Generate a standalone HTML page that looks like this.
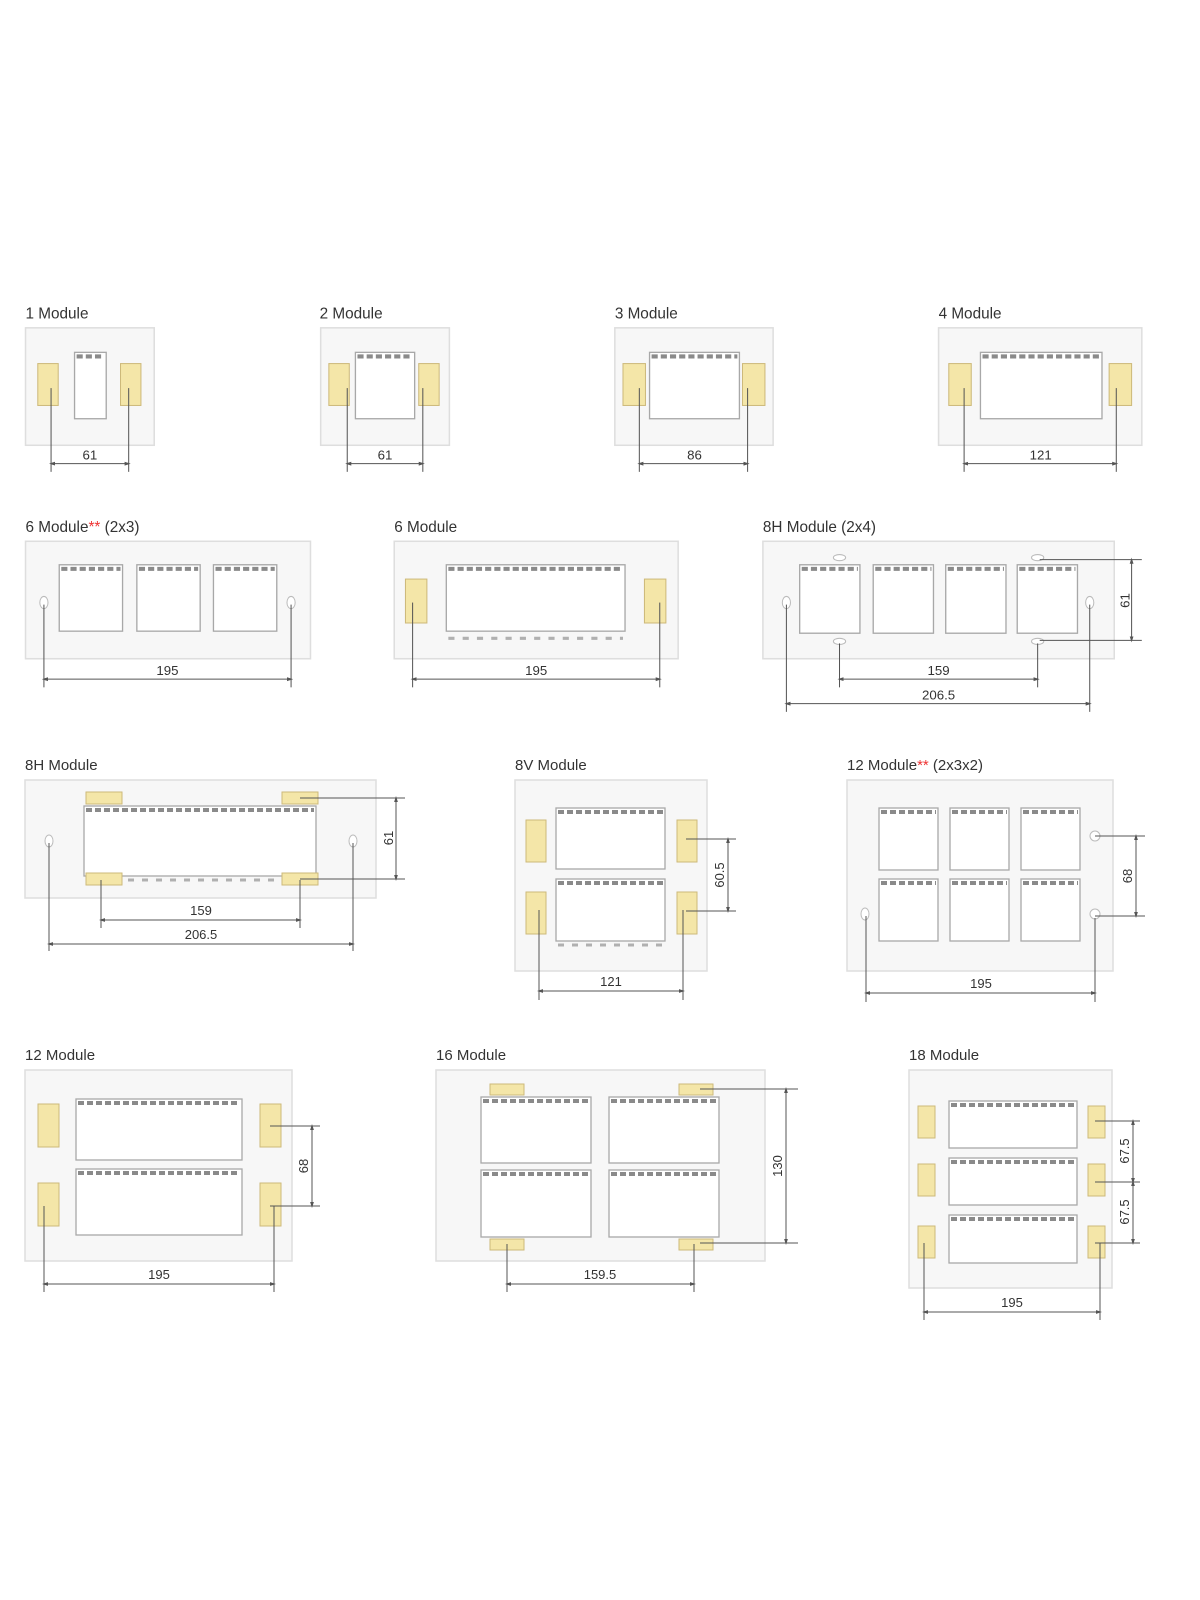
<!DOCTYPE html>
<html><head><meta charset="utf-8"><style>
html,body{margin:0;padding:0;background:#fff}
svg{display:block}
.ti{font-family:"Liberation Sans",sans-serif;font-size:15px;fill:#333}
.dl{font-family:"Liberation Sans",sans-serif;font-size:13px;fill:#333;text-anchor:middle}
.p{fill:#f7f7f7;stroke:#dedede;stroke-width:1.5}
.o{fill:#fff;stroke:#a8a8a8;stroke-width:1.3}
.t{stroke:#8a8a8a;stroke-width:4;stroke-dasharray:6 3}
.b{stroke:#b0b0b0;stroke-width:3;stroke-dasharray:6 8}
.c{fill:#f4e6a8;stroke:#cdb97a;stroke-width:1}
.d{stroke:#555;stroke-width:1;fill:none}
.a{stroke:#555;stroke-width:1;fill:none;marker-start:url(#m);marker-end:url(#m)}
.h{fill:#fff;stroke:#bbb;stroke-width:1}
</style></head><body>
<svg width="1200" height="1600" viewBox="0 0 1200 1600" xmlns="http://www.w3.org/2000/svg">
<defs><marker id="m" viewBox="0 0 8 8" refX="4" refY="4" markerWidth="6" markerHeight="6" orient="auto-start-reverse"><path d="M0,1.5 L8,4 L0,6.5 z" fill="#555"/></marker></defs>

<g transform="scale(1.0213)">
<!-- Row 1 -->
<text class="ti" x="25" y="312">1 Module</text>
<rect class="p" x="25" y="321" width="126" height="115"/>
<rect class="o" x="73" y="345" width="31" height="65"/><line class="t" x1="75" y1="349" x2="102" y2="349"/>
<rect class="c" x="37" y="356" width="20" height="41"/><rect class="c" x="118" y="356" width="20" height="41"/>
<line class="d" x1="50" y1="380" x2="50" y2="462"/><line class="d" x1="126" y1="380" x2="126" y2="462"/>
<line class="a" x1="51" y1="454" x2="125" y2="454"/><text class="dl" x="88" y="450">61</text>

<text class="ti" x="313" y="312">2 Module</text>
<rect class="p" x="314" y="321" width="126" height="115"/>
<rect class="o" x="348" y="345" width="58" height="65"/><line class="t" x1="350" y1="349" x2="404" y2="349"/>
<rect class="c" x="322" y="356" width="20" height="41"/><rect class="c" x="410" y="356" width="20" height="41"/>
<line class="d" x1="340" y1="380" x2="340" y2="462"/><line class="d" x1="414" y1="380" x2="414" y2="462"/>
<line class="a" x1="341" y1="454" x2="413" y2="454"/><text class="dl" x="377" y="450">61</text>

<text class="ti" x="602" y="312">3 Module</text>
<rect class="p" x="602" y="321" width="155" height="115"/>
<rect class="o" x="636" y="345" width="88" height="65"/><line class="t" x1="638" y1="349" x2="722" y2="349"/>
<rect class="c" x="610" y="356" width="22" height="41"/><rect class="c" x="727" y="356" width="22" height="41"/>
<line class="d" x1="626" y1="380" x2="626" y2="462"/><line class="d" x1="732" y1="380" x2="732" y2="462"/>
<line class="a" x1="627" y1="454" x2="731" y2="454"/><text class="dl" x="680" y="450">86</text>

<text class="ti" x="919" y="312">4 Module</text>
<rect class="p" x="919" y="321" width="199" height="115"/>
<rect class="o" x="960" y="345" width="119" height="65"/><line class="t" x1="962" y1="349" x2="1077" y2="349"/>
<rect class="c" x="929" y="356" width="22" height="41"/><rect class="c" x="1086" y="356" width="22" height="41"/>
<line class="d" x1="944" y1="380" x2="944" y2="462"/><line class="d" x1="1093" y1="380" x2="1093" y2="462"/>
<line class="a" x1="945" y1="454" x2="1092" y2="454"/><text class="dl" x="1019" y="450">121</text>

<!-- Row 2 -->
<text class="ti" x="25" y="521">6 Module<tspan fill="#e33">**</tspan> (2x3)</text>
<rect class="p" x="25" y="530" width="279" height="115"/>
<rect class="o" x="58" y="553" width="62" height="65"/><line class="t" x1="60" y1="557" x2="118" y2="557"/>
<rect class="o" x="134" y="553" width="62" height="65"/><line class="t" x1="136" y1="557" x2="194" y2="557"/>
<rect class="o" x="209" y="553" width="62" height="65"/><line class="t" x1="211" y1="557" x2="269" y2="557"/>
<ellipse class="h" cx="43" cy="590" rx="4" ry="6"/><ellipse class="h" cx="285" cy="590" rx="4" ry="6"/>
<line class="d" x1="43" y1="592" x2="43" y2="673"/><line class="d" x1="285" y1="592" x2="285" y2="673"/>
<line class="a" x1="44" y1="665" x2="284" y2="665"/><text class="dl" x="164" y="661">195</text>

<text class="ti" x="386" y="521">6 Module</text>
<rect class="p" x="386" y="530" width="278" height="115"/>
<rect class="o" x="437" y="553" width="175" height="65"/><line class="t" x1="439" y1="557" x2="610" y2="557"/><line class="b" x1="439" y1="625" x2="610" y2="625"/>
<rect class="c" x="397" y="567" width="21" height="43"/><rect class="c" x="631" y="567" width="21" height="43"/>
<line class="d" x1="404" y1="590" x2="404" y2="673"/><line class="d" x1="646" y1="590" x2="646" y2="673"/>
<line class="a" x1="405" y1="665" x2="645" y2="665"/><text class="dl" x="525" y="661">195</text>

<text class="ti" x="747" y="521">8H Module (2x4)</text>
<rect class="p" x="747" y="530" width="344" height="115"/>
<rect class="o" x="783" y="553" width="59" height="67"/><line class="t" x1="785" y1="557" x2="840" y2="557"/>
<rect class="o" x="855" y="553" width="59" height="67"/><line class="t" x1="857" y1="557" x2="912" y2="557"/>
<rect class="o" x="926" y="553" width="59" height="67"/><line class="t" x1="928" y1="557" x2="983" y2="557"/>
<rect class="o" x="996" y="553" width="59" height="67"/><line class="t" x1="998" y1="557" x2="1053" y2="557"/>
<ellipse class="h" cx="770" cy="590" rx="4" ry="6"/><ellipse class="h" cx="1067" cy="590" rx="4" ry="6"/>
<ellipse class="h" cx="822" cy="546" rx="6" ry="3"/><ellipse class="h" cx="1016" cy="546" rx="6" ry="3"/>
<ellipse class="h" cx="822" cy="628" rx="6" ry="3"/><ellipse class="h" cx="1016" cy="628" rx="6" ry="3"/>
<line class="d" x1="1018" y1="548" x2="1118" y2="548"/><line class="d" x1="1018" y1="627" x2="1118" y2="627"/>
<line class="a" x1="1108" y1="549" x2="1108" y2="626"/><text class="dl" transform="translate(1106,588) rotate(-90)">61</text>
<line class="d" x1="822" y1="630" x2="822" y2="673"/><line class="d" x1="1016" y1="630" x2="1016" y2="673"/>
<line class="a" x1="823" y1="665" x2="1015" y2="665"/><text class="dl" x="919" y="661">159</text>
<line class="d" x1="770" y1="592" x2="770" y2="697"/><line class="d" x1="1067" y1="592" x2="1067" y2="697"/>
<line class="a" x1="771" y1="689" x2="1066" y2="689"/><text class="dl" x="919" y="685">206.5</text>
</g>

<!-- Row 3 -->
<text class="ti" x="25" y="770">8H Module</text>
<rect class="p" x="25" y="780" width="351" height="118"/>
<rect class="o" x="84" y="806" width="232" height="70"/><line class="t" x1="86" y1="810" x2="314" y2="810"/><line class="b" x1="86" y1="880" x2="314" y2="880"/>
<rect class="c" x="86" y="792" width="36" height="12"/><rect class="c" x="282" y="792" width="36" height="12"/>
<rect class="c" x="86" y="873" width="36" height="12"/><rect class="c" x="282" y="873" width="36" height="12"/>
<ellipse class="h" cx="49" cy="841" rx="4" ry="6"/><ellipse class="h" cx="353" cy="841" rx="4" ry="6"/>
<line class="d" x1="300" y1="798" x2="405" y2="798"/><line class="d" x1="300" y1="879" x2="405" y2="879"/>
<line class="a" x1="396" y1="799" x2="396" y2="878"/><text class="dl" transform="translate(393,838) rotate(-90)">61</text>
<line class="d" x1="101" y1="880" x2="101" y2="928"/><line class="d" x1="300" y1="880" x2="300" y2="928"/>
<line class="a" x1="102" y1="920" x2="299" y2="920"/><text class="dl" x="201" y="915">159</text>
<line class="d" x1="49" y1="843" x2="49" y2="951"/><line class="d" x1="353" y1="843" x2="353" y2="951"/>
<line class="a" x1="50" y1="944" x2="352" y2="944"/><text class="dl" x="201" y="939">206.5</text>

<text class="ti" x="515" y="770">8V Module</text>
<rect class="p" x="515" y="780" width="192" height="191"/>
<rect class="o" x="556" y="808" width="109" height="61"/><line class="t" x1="558" y1="812" x2="663" y2="812"/>
<rect class="o" x="556" y="879" width="109" height="62"/><line class="t" x1="558" y1="883" x2="663" y2="883"/><line class="b" x1="558" y1="945" x2="663" y2="945"/>
<rect class="c" x="526" y="820" width="20" height="42"/><rect class="c" x="526" y="892" width="20" height="42"/>
<rect class="c" x="677" y="820" width="20" height="42"/><rect class="c" x="677" y="892" width="20" height="42"/>
<line class="d" x1="686" y1="839" x2="736" y2="839"/><line class="d" x1="686" y1="911" x2="736" y2="911"/>
<line class="a" x1="728" y1="840" x2="728" y2="910"/><text class="dl" transform="translate(724,875) rotate(-90)">60.5</text>
<line class="d" x1="539" y1="910" x2="539" y2="1000"/><line class="d" x1="683" y1="910" x2="683" y2="1000"/>
<line class="a" x1="540" y1="991" x2="682" y2="991"/><text class="dl" x="611" y="986">121</text>

<text class="ti" x="847" y="770">12 Module<tspan fill="#e33">**</tspan> (2x3x2)</text>
<rect class="p" x="847" y="780" width="266" height="191"/>
<rect class="o" x="879" y="808" width="59" height="62"/><line class="t" x1="881" y1="812" x2="936" y2="812"/>
<rect class="o" x="950" y="808" width="59" height="62"/><line class="t" x1="952" y1="812" x2="1007" y2="812"/>
<rect class="o" x="1021" y="808" width="59" height="62"/><line class="t" x1="1023" y1="812" x2="1078" y2="812"/>
<rect class="o" x="879" y="879" width="59" height="62"/><line class="t" x1="881" y1="883" x2="936" y2="883"/>
<rect class="o" x="950" y="879" width="59" height="62"/><line class="t" x1="952" y1="883" x2="1007" y2="883"/>
<rect class="o" x="1021" y="879" width="59" height="62"/><line class="t" x1="1023" y1="883" x2="1078" y2="883"/>
<ellipse class="h" cx="1095" cy="836" rx="5" ry="5"/><ellipse class="h" cx="1095" cy="914" rx="5" ry="5"/>
<ellipse class="h" cx="865" cy="914" rx="4" ry="6"/>
<line class="d" x1="1095" y1="836" x2="1145" y2="836"/><line class="d" x1="1095" y1="916" x2="1145" y2="916"/>
<line class="a" x1="1136" y1="837" x2="1136" y2="915"/><text class="dl" transform="translate(1132,876) rotate(-90)">68</text>
<line class="d" x1="866" y1="916" x2="866" y2="1002"/><line class="d" x1="1095" y1="918" x2="1095" y2="1002"/>
<line class="a" x1="867" y1="993" x2="1094" y2="993"/><text class="dl" x="981" y="988">195</text>

<!-- Row 4 -->
<text class="ti" x="25" y="1060">12 Module</text>
<rect class="p" x="25" y="1070" width="267" height="191"/>
<rect class="o" x="76" y="1099" width="166" height="61"/><line class="t" x1="78" y1="1103" x2="240" y2="1103"/>
<rect class="o" x="76" y="1169" width="166" height="66"/><line class="t" x1="78" y1="1173" x2="240" y2="1173"/>
<rect class="c" x="38" y="1104" width="21" height="43"/><rect class="c" x="38" y="1183" width="21" height="43"/>
<rect class="c" x="260" y="1104" width="21" height="43"/><rect class="c" x="260" y="1183" width="21" height="43"/>
<line class="d" x1="270" y1="1126" x2="320" y2="1126"/><line class="d" x1="270" y1="1206" x2="320" y2="1206"/>
<line class="a" x1="312" y1="1127" x2="312" y2="1205"/><text class="dl" transform="translate(308,1166) rotate(-90)">68</text>
<line class="d" x1="44" y1="1206" x2="44" y2="1292"/><line class="d" x1="274" y1="1206" x2="274" y2="1292"/>
<line class="a" x1="45" y1="1284" x2="273" y2="1284"/><text class="dl" x="159" y="1279">195</text>

<text class="ti" x="436" y="1060">16 Module</text>
<rect class="p" x="436" y="1070" width="329" height="191"/>
<rect class="o" x="481" y="1097" width="110" height="66"/><line class="t" x1="483" y1="1101" x2="589" y2="1101"/>
<rect class="o" x="609" y="1097" width="110" height="66"/><line class="t" x1="611" y1="1101" x2="717" y2="1101"/>
<rect class="o" x="481" y="1170" width="110" height="67"/><line class="t" x1="483" y1="1174" x2="589" y2="1174"/>
<rect class="o" x="609" y="1170" width="110" height="67"/><line class="t" x1="611" y1="1174" x2="717" y2="1174"/>
<rect class="c" x="490" y="1084" width="34" height="11"/><rect class="c" x="679" y="1084" width="34" height="11"/>
<rect class="c" x="490" y="1239" width="34" height="11"/><rect class="c" x="679" y="1239" width="34" height="11"/>
<line class="d" x1="700" y1="1089" x2="798" y2="1089"/><line class="d" x1="700" y1="1243" x2="798" y2="1243"/>
<line class="a" x1="786" y1="1090" x2="786" y2="1242"/><text class="dl" transform="translate(782,1166) rotate(-90)">130</text>
<line class="d" x1="507" y1="1244" x2="507" y2="1292"/><line class="d" x1="694" y1="1244" x2="694" y2="1292"/>
<line class="a" x1="508" y1="1284" x2="693" y2="1284"/><text class="dl" x="600" y="1279">159.5</text>

<text class="ti" x="909" y="1060">18 Module</text>
<rect class="p" x="909" y="1070" width="203" height="218"/>
<rect class="o" x="949" y="1101" width="128" height="47"/><line class="t" x1="951" y1="1105" x2="1075" y2="1105"/>
<rect class="o" x="949" y="1158" width="128" height="47"/><line class="t" x1="951" y1="1162" x2="1075" y2="1162"/>
<rect class="o" x="949" y="1215" width="128" height="48"/><line class="t" x1="951" y1="1219" x2="1075" y2="1219"/>
<rect class="c" x="918" y="1106" width="17" height="32"/><rect class="c" x="918" y="1164" width="17" height="32"/><rect class="c" x="918" y="1226" width="17" height="32"/>
<rect class="c" x="1088" y="1106" width="17" height="32"/><rect class="c" x="1088" y="1164" width="17" height="32"/><rect class="c" x="1088" y="1226" width="17" height="32"/>
<line class="d" x1="1095" y1="1121" x2="1140" y2="1121"/><line class="d" x1="1095" y1="1182" x2="1140" y2="1182"/><line class="d" x1="1095" y1="1243" x2="1140" y2="1243"/>
<line class="a" x1="1133" y1="1122" x2="1133" y2="1181"/><line class="a" x1="1133" y1="1183" x2="1133" y2="1242"/>
<text class="dl" transform="translate(1129,1151) rotate(-90)">67.5</text><text class="dl" transform="translate(1129,1212) rotate(-90)">67.5</text>
<line class="d" x1="924" y1="1243" x2="924" y2="1320"/><line class="d" x1="1100" y1="1243" x2="1100" y2="1320"/>
<line class="a" x1="925" y1="1312" x2="1099" y2="1312"/><text class="dl" x="1012" y="1307">195</text>
</svg>
</body></html>
